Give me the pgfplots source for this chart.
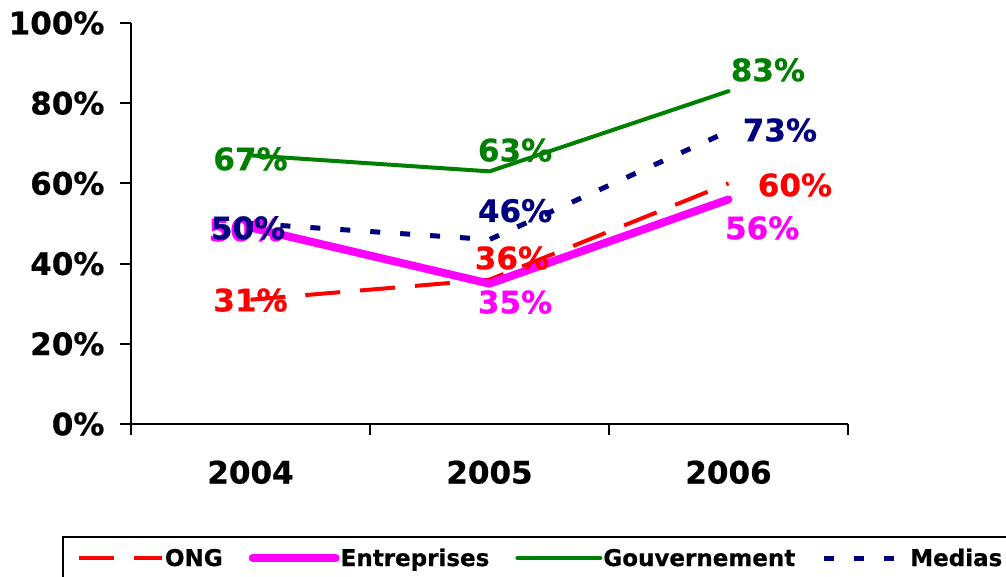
\documentclass[border=0pt]{standalone}
\usepackage{fontspec}
\setmainfont{DejaVu Sans}[BoldFeatures={FakeBold=0.6}]
\usepackage{pgfplots}
\pgfplotsset{compat=1.18}

\definecolor{ongred}{RGB}{255,0,0}
\definecolor{entmag}{RGB}{255,0,255}
\definecolor{gouvgreen}{RGB}{0,128,0}
\definecolor{medianavy}{RGB}{0,0,128}

\newcommand{\lblfont}{\fontsize{31}{36}\selectfont\bfseries}
\newcommand{\legfont}{\fontsize{23}{26}\selectfont\bfseries}

% legend samples, all 83pt wide
\pgfplotsset{
    ongleg/.style={legend image code/.code={\draw[##1] (0pt,0pt) -- (79pt,0pt); \path (0pt,0pt) -- (83pt,0pt);}},
    entleg/.style={legend image code/.code={\draw[##1] (4pt,0pt) -- (79pt,0pt); \path (0pt,0pt) -- (83pt,0pt);}},
    gouvleg/.style={legend image code/.code={\draw[##1] (2pt,0pt) -- (81pt,0pt); \path (0pt,0pt) -- (83pt,0pt);}},
    medleg/.style={legend image code/.code={\draw[##1] (0pt,0pt) -- (72pt,0pt); \path (0pt,0pt) -- (83pt,0pt);}},
}

\begin{document}
\begin{tikzpicture}
\begin{axis}[
    at={(131pt,152pt)}, anchor=south west,
    scale only axis, width=717pt, height=401pt,
    xmin=-0.5, xmax=2.5, ymin=0, ymax=100,
    clip=false,
    axis lines*=left,
    axis line style={line width=2pt, black},
    xtick={0,1,2}, xticklabels={2004,2005,2006},
    major x tick style={draw=none},
    minor xtick={-0.5,0.5,1.5,2.5},
    ytick={0,20,40,60,80,100},
    yticklabels={0\%,20\%,40\%,60\%,80\%,100\%},
    tick align=outside,
    tick style={line width=2pt, black},
    major tick length=11pt, minor tick length=11pt,
    ticklabel style={font=\lblfont},
    xticklabel style={yshift=-22pt},
    yticklabel style={xshift=-12pt},
    % legend along the bottom, cut by the page edge as in the original
    legend style={at={(-0.0962,-0.2793)}, anchor=north west,
        draw=black, line width=2pt, fill=white,
        inner xsep=14pt, inner ysep=13pt, font=\legfont,
        nodes={inner sep=0pt, text height=16pt, text depth=0pt},
        legend columns=4,
        /tikz/every odd column/.style={column sep=1pt},
        /tikz/every even column/.style={column sep=26pt}},
    legend cell align=left,
]

\addplot[ongred, line width=4pt, dash pattern=on 35pt off 20pt, ongleg]
    coordinates {(0,31) (1,36) (2,60)};
\addlegendentry{ONG}

\addplot[entmag, line width=8pt, line cap=round, line join=round, entleg]
    coordinates {(0,49) (1,35) (2,56)};
\addlegendentry{Entreprises}

\addplot[gouvgreen, line width=4pt, line cap=round, gouvleg]
    coordinates {(0,67) (1,63) (2,83)};
\addlegendentry{Gouvernement}

\addplot[medianavy, line width=5pt, dash pattern=on 10pt off 20pt, medleg]
    coordinates {(0,50) (1,46) (2,73)};
\addlegendentry{Medias}

% data labels
\node[font=\lblfont, text=ongred] at (axis cs:0,30.9) {31\%};
\node[font=\lblfont, text=ongred] at (axis cs:1.094,41.4) {36\%};
\node[font=\lblfont, text=ongred] at (axis cs:2.278,59.6) {60\%};
\node[font=\lblfont, text=entmag] at (axis cs:-0.02,48.4) {50\%};
\node[font=\lblfont, text=entmag] at (axis cs:1.107,30.4) {35\%};
\node[font=\lblfont, text=entmag] at (axis cs:2.141,48.9) {56\%};
\node[font=\lblfont, text=gouvgreen] at (axis cs:0,66.1) {67\%};
\node[font=\lblfont, text=gouvgreen] at (axis cs:1.107,68.3) {63\%};
\node[font=\lblfont, text=gouvgreen] at (axis cs:2.165,88.3) {83\%};
\node[font=\lblfont, text=medianavy] at (axis cs:-0.01,48.9) {50\%};
\node[font=\lblfont, text=medianavy] at (axis cs:1.107,53.2) {46\%};
\node[font=\lblfont, text=medianavy] at (axis cs:2.215,73.3) {73\%};
\end{axis}
\pgfresetboundingbox
\path[use as bounding box] (0pt,0pt) rectangle (1006pt,576pt);
\end{tikzpicture}
\end{document}
